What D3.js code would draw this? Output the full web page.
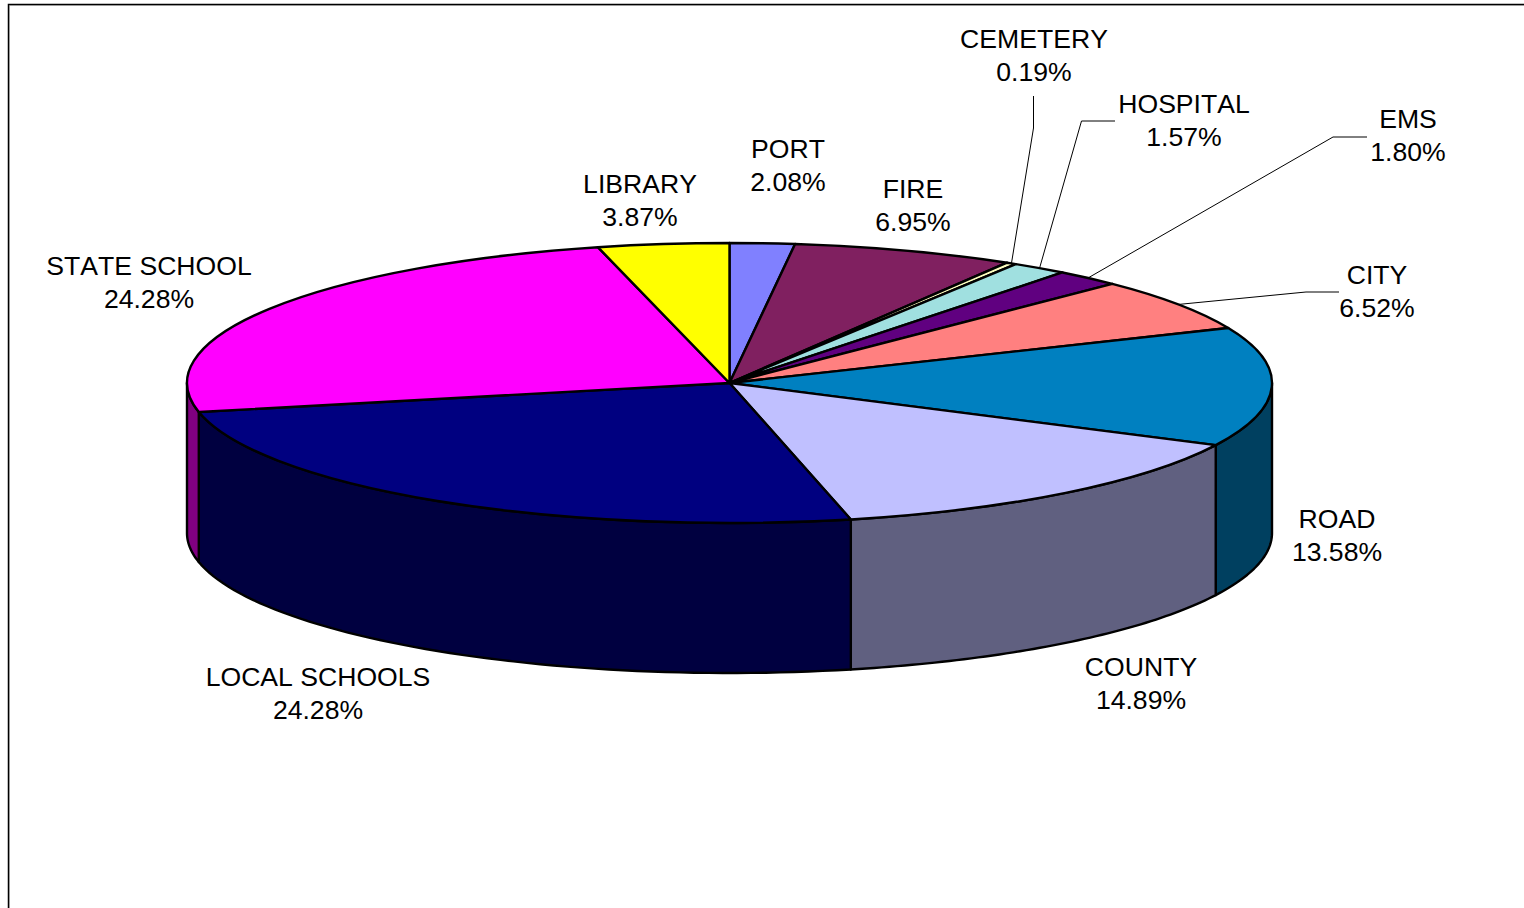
<!DOCTYPE html>
<html>
<head>
<meta charset="utf-8">
<script src="https://cdn.jsdelivr.net/npm/d3@7/dist/d3.min.js"></script>
<style>
  html, body { margin: 0; padding: 0; background: #fff; overflow: hidden; }
  svg { display: block; }
  text { font-family: "Liberation Sans", Arial, sans-serif; font-size: 26.6px; font-kerning: none; fill: #000; text-anchor: middle; }
</style>
</head>
<body>
<div id="chart"></div>
<script>
// Taxing units, clockwise from 12 o'clock
const categories = ['PORT', 'FIRE', 'CEMETERY', 'HOSPITAL', 'EMS', 'CITY', 'ROAD', 'COUNTY', 'LOCAL SCHOOLS', 'STATE SCHOOL', 'LIBRARY'];
// Percentages as printed on the labels
const printedPct = [2.08, 6.95, 0.19, 1.57, 1.80, 6.52, 13.58, 14.89, 24.28, 24.28, 3.87];
const drawnPct = [1.93, 6.62, 0.30, 1.67, 1.95, 6.10, 13.75, 14.10, 25.27, 24.43, 3.90];

const topColors = ['#8080ff', '#802060', '#ffffc0', '#a0e0e0', '#600080', '#ff8080', '#0080c0', '#c0c0ff', '#000080', '#ff00ff', '#ffff00'];
const wallColors = ['#404080', '#401030', '#808060', '#507070', '#300040', '#804040', '#004060', '#606080', '#000040', '#800080', '#808000'];

// Label centre x / first baseline, and optional leader elbows
const labelLayout = {
  'PORT': { x: 788, y: 158 },
  'FIRE': { x: 913, y: 198 },
  'CEMETERY': { x: 1034, y: 48, leader: [[1033.5, 128], [1033.5, 96]] },
  'HOSPITAL': { x: 1184, y: 113, leader: [[1081.5, 121], [1115, 121]] },
  'EMS': { x: 1408, y: 128, leader: [[1333, 137], [1367, 137]] },
  'CITY': { x: 1377, y: 284, leader: [[1306, 292], [1339, 292]] },
  'ROAD': { x: 1337, y: 528 },
  'COUNTY': { x: 1141, y: 676 },
  'LOCAL SCHOOLS': { x: 318, y: 686 },
  'STATE SCHOOL': { x: 149, y: 275 },
  'LIBRARY': { x: 640, y: 193 },
};

const width = 1524, height = 908;
const cx = 729.5, cy = 383, rx = 542.5, ry = 140, depth = 150;
const lineGap = 33;

const svg = d3.select('#chart').append('svg')
  .attr('width', width).attr('height', height);

// ============================================================
//  Frame (runs off the page to the right and bottom)
// ============================================================
svg.append('path')
  .attr('d', `M9.5,${height} V5.5 H${width}`)
  .attr('fill', 'none').attr('stroke', '#ccc').attr('stroke-width', 1);
svg.append('path')
  .attr('d', `M8.5,${height} V4.5 H${width}`)
  .attr('fill', 'none').attr('stroke', '#000').attr('stroke-width', 1.5);

// ============================================================
//  Pie
// ============================================================
const slices = d3.pie().sort(null).value(d => d)(drawnPct);

// Point on the tilted rim, angle clockwise from 12 o'clock
const rimX = a => cx + rx * Math.sin(a);
const rimY = a => cy - ry * Math.cos(a);

const line = d3.line();

// Walls: only the front half of the disc shows
const wallPath = (a0, a1) => {
  const from = Math.max(a0, Math.PI / 2);
  const to = Math.min(a1, Math.PI * 1.5);
  if (from >= to) return null;
  const steps = d3.range(0, 61).map(i => from + (to - from) * i / 60);
  const top = steps.map(a => [rimX(a), rimY(a)]);
  const bottom = steps.slice().reverse().map(a => [rimX(a), rimY(a) + depth]);
  return line(top.concat(bottom)) + 'Z';
};

svg.append('g').selectAll('path')
  .data(slices.filter(d => wallPath(d.startAngle, d.endAngle)))
  .join('path')
  .attr('d', d => wallPath(d.startAngle, d.endAngle))
  .attr('fill', d => wallColors[d.index])
  .attr('stroke', '#000').attr('stroke-width', 2.4).attr('stroke-linejoin', 'round');

const arc = d3.arc().innerRadius(0).outerRadius(rx);

svg.append('g')
  .attr('transform', `translate(${cx},${cy}) scale(1,${ry / rx})`)
  .selectAll('path')
  .data(slices)
  .join('path')
  .attr('d', arc)
  .attr('fill', d => topColors[d.index])
  .attr('stroke', '#000').attr('stroke-width', 2.4).attr('stroke-linejoin', 'round')
  .attr('vector-effect', 'non-scaling-stroke');

// ============================================================
//  Leaders and labels
// ============================================================
const leaderPoints = d => {
  const mid = (d.startAngle + d.endAngle) / 2;
  return [[rimX(mid), rimY(mid)]].concat(labelLayout[categories[d.index]].leader);
};

svg.append('g').selectAll('path')
  .data(slices.filter(d => labelLayout[categories[d.index]].leader))
  .join('path')
  .attr('d', d => line(leaderPoints(d)))
  .attr('fill', 'none').attr('stroke', '#000').attr('stroke-width', 1);

const labels = svg.append('g').selectAll('text')
  .data(categories)
  .join('text')
  .attr('x', d => labelLayout[d].x)
  .attr('y', d => labelLayout[d].y);
labels.append('tspan').text(d => d);
labels.append('tspan')
  .attr('x', d => labelLayout[d].x)
  .attr('dy', lineGap)
  .text((d, i) => printedPct[i].toFixed(2) + '%');
</script>
</body>
</html>
